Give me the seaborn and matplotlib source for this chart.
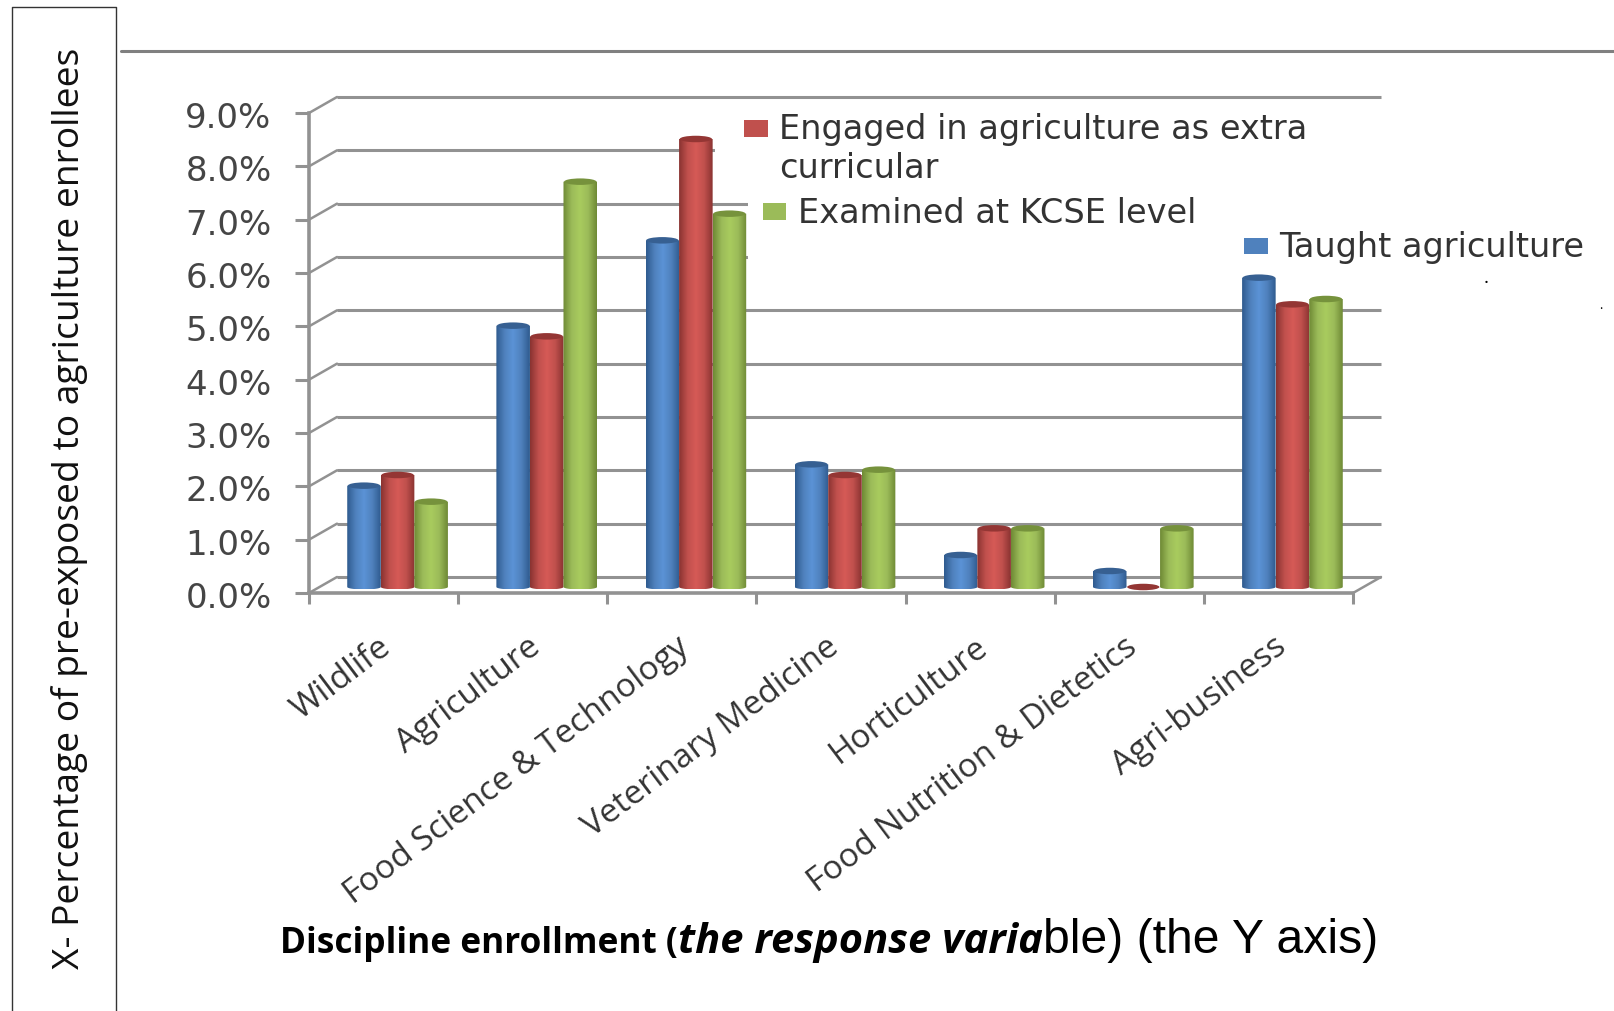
import numpy as np
import pandas as pd
import seaborn as sns
import matplotlib.pyplot as plt
from matplotlib.colors import LinearSegmentedColormap
from matplotlib.patches import Ellipse, PathPatch, Rectangle
from matplotlib.path import Path
from matplotlib.transforms import Affine2D, IdentityTransform

# values
categories = ['Wildlife', 'Agriculture', 'Food Science & Technology', 'Veterinary Medicine',
              'Horticulture', 'Food Nutrition & Dietetics', 'Agri-business']
taught = [1.9, 4.9, 6.5, 2.3, 0.6, 0.3, 5.8]
engaged = [2.1, 4.7, 8.4, 2.1, 1.1, 0.0, 5.3]
examined = [1.6, 7.6, 7.0, 2.2, 1.1, 1.1, 5.4]
series_names = ['Taught agriculture', 'Engaged in agriculture as extra curricular', 'Examined at KCSE level']
y_ticks = [0, 1, 2, 3, 4, 5, 6, 7, 8, 9]

W, H = 1614, 1011
GRID = '#929292'
TXT = '#333333'
# dark edge, base, highlight, top cap
shades = {
    series_names[0]: ('#2f5b8f', '#4f81bd', '#5b93d6', '#376092'),
    series_names[1]: ('#8a3331', '#c0504d', '#d65a56', '#943634'),
    series_names[2]: ('#6f8a35', '#9bbb59', '#a9cc5e', '#76923c'),
}

sns.set_style('white')
plt.rcParams['font.family'] = ['Open Sans', 'DejaVu Sans']

df = pd.DataFrame({'category': categories, series_names[0]: taught,
                   series_names[1]: engaged, series_names[2]: examined})
long_df = df.melt(id_vars='category', var_name='series', value_name='pct')

fig = plt.figure(figsize=(W / 100, H / 100), dpi=100)
ax = fig.add_axes([309 / W, 1 - 593 / H, (1353 - 309) / W, (593 - 113) / H])

sns.barplot(data=long_df, x='category', y='pct', hue='series', hue_order=series_names,
            palette=[shades[s][1] for s in series_names], width=0.675, gap=0,
            legend=False, ax=ax, order=categories, saturation=1)
ax.set_xlim(-0.5, 6.5)
ax.set_ylim(0, 9)

unit_y = 480 / 9  # pixels per percent
bar_shift = ax.transData + Affine2D().translate(14, 6)
back_shift = ax.transData + Affine2D().translate(28, 16)

# back wall, side lines, floor
ax.hlines(y_ticks, -0.5, 6.5, transform=back_shift, color=GRID, lw=2.2, zorder=1, clip_on=False)
for v in y_ticks:
    ax.plot([-0.5, -0.5 + 28 / (1044 / 7)], [v, v + 16 / unit_y], color=GRID, lw=1.8, zorder=1, clip_on=False)
ax.plot([6.5, 6.5 + 28 / (1044 / 7)], [0, 16 / unit_y], color=GRID, lw=1.8, zorder=1, clip_on=False)

# the legend box in the original blanks the upper grid lines
for x0, y0, x1, y1 in [(748, 108, 1400, 283), (715, 135, 748, 165)]:
    ax.add_patch(Rectangle((x0, H - y1), x1 - x0, y1 - y0, fc='white', ec='none', zorder=1.5,
                           transform=IdentityTransform(), clip_on=False))

# cylinders drawn over the seaborn bars
series_for_bar = [s for s in series_names for _ in categories]
for bar, s in zip(list(ax.patches)[:21], series_for_bar):
    dark, base, light, cap = shades[s]
    x0, w, h = bar.get_x(), bar.get_width(), bar.get_height()
    bar.set_visible(False)
    cx = x0 + w / 2
    if h > 0:
        cmap = LinearSegmentedColormap.from_list('c', [dark, base, light, base, dark])
        grad = np.linspace(0, 1, 64).reshape(1, -1)
        ry = 2.5 / unit_y
        im = ax.imshow(grad, cmap=cmap, aspect='auto', extent=(x0, x0 + w, -ry, h),
                       interpolation='bilinear', zorder=3)
        im.set_transform(bar_shift)
        t = np.linspace(np.pi, 2 * np.pi, 24)
        verts = [(x0, h)] + list(zip(cx + w / 2 * np.cos(t), ry * np.sin(t))) + [(x0 + w, h), (x0, h)]
        clip = PathPatch(Path(verts), transform=bar_shift, fc='none', ec='none')
        ax.add_patch(clip)
        im.set_clip_path(clip)
    top = Ellipse((cx, h), w * 0.96, 6.5 / unit_y, fc=cap, ec='none', transform=bar_shift, zorder=4, clip_on=False)
    ax.add_patch(top)
ax.set_xlim(-0.5, 6.5)
ax.set_ylim(0, 9)

# front axes
for side in ['top', 'right']:
    ax.spines[side].set_visible(False)
for side in ['left', 'bottom']:
    ax.spines[side].set_color(GRID)
    ax.spines[side].set_linewidth(2.6)
ax.patch.set_alpha(0)
ax.set_xlabel('')
ax.set_ylabel('')
ax.set_yticks(y_ticks)
ax.set_yticklabels([f'{v:.1f}%' for v in y_ticks], fontsize=24.5, color='#454545', family='DejaVu Sans')
ax.tick_params(axis='y', length=10, width=2.2, color=GRID, pad=17, left=True)
for lab in ax.get_yticklabels():
    lab.set_transform(lab.get_transform() + Affine2D().translate(0, -2))
ax.set_xticks(np.arange(8) - 0.5)
ax.set_xticklabels([])
ax.tick_params(axis='x', which='major', length=8, width=2.2, color=GRID, bottom=True)
ax.set_xticks(range(7), minor=True)
ax.set_xticklabels(categories, minor=True, rotation=37, ha='right', rotation_mode='anchor',
                   fontsize=24, color=TXT)
ax.tick_params(axis='x', which='minor', length=0, pad=27)
for lab in ax.get_xticklabels(minor=True):
    lab.set_transform(lab.get_transform() + Affine2D().translate(-6, 0))


def ftext(x, y, s, **kw):
    return fig.text(x / W, 1 - y / H, s, **kw)


def square(x0, y0, x1, y1, color):
    fig.add_artist(Rectangle((x0 / W, 1 - y1 / H), (x1 - x0) / W, (y1 - y0) / H, fc=color, ec='none',
                             transform=fig.transFigure))


# legend pieces are scattered in the original
lg = dict(fontsize=24.2, color=TXT, va='center', family='DejaVu Sans')
square(744, 120, 768, 137, shades[series_names[1]][1])
ftext(779, 129, 'Engaged in agriculture as extra', **lg)
ftext(779, 169, 'curricular', **lg)
square(763, 203, 786, 220, shades[series_names[2]][1])
ftext(798, 213, series_names[2], **lg)
square(1244, 238, 1268, 254, shades[series_names[0]][1])
ftext(1279, 248, series_names[0], **lg)
ftext(1486, 283, '.', fontsize=14, color='black', ha='center')
ftext(1601, 309, '.', fontsize=9, color='black', ha='center')

# left box and top rule
fig.add_artist(plt.Line2D([12 / W, 12 / W, 116 / W, 116 / W], [0, 1 - 7 / H, 1 - 7 / H, 0], color='#333333', lw=1))
fig.add_artist(plt.Line2D([121 / W, 1], [1 - 51 / H, 1 - 51 / H], color='#808080', lw=2.2))
ftext(70, 508, 'X- Percentage of pre-exposed to agriculture enrollees', rotation=90, fontsize=26.7,
      color='#111111', ha='center', va='center')

# x axis title in three faces
r = fig.canvas.get_renderer()
x = 280
for s, kw in [('Discipline enrollment (', dict(fontweight='bold', fontsize=25.4)),
              ('the response varia', dict(fontweight='bold', style='italic', fontsize=30)),
              ('ble) (the Y axis)', dict(family='Liberation Sans', fontsize=34.7))]:
    t = ftext(x, 953, s, color='black', va='baseline', **kw)
    adv = r.get_text_width_height_descent(s + '.', t.get_fontproperties(), False)[0] \
        - r.get_text_width_height_descent('.', t.get_fontproperties(), False)[0]
    x += adv

fig.savefig('out.png', dpi=100)
